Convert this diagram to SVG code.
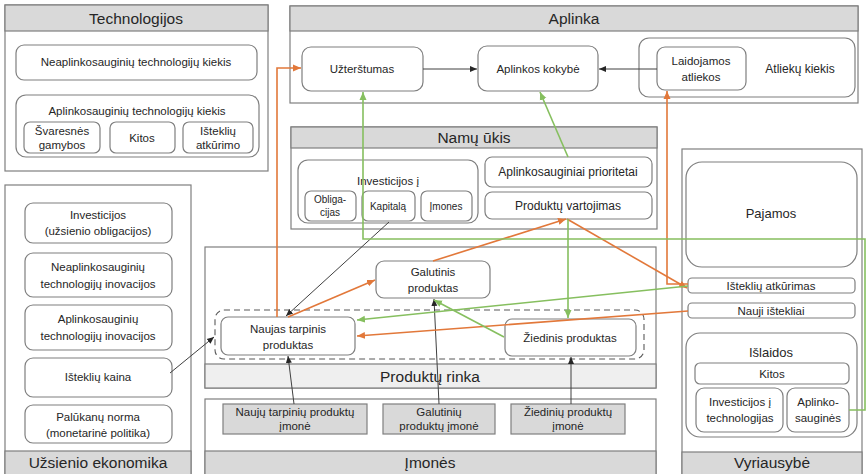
<svg xmlns="http://www.w3.org/2000/svg" width="866" height="474" viewBox="0 0 866 474">
<style>
text{font-family:"Liberation Sans",Arial,sans-serif;fill:#262626;text-anchor:middle;font-size:11.5px}
.h{font-size:15.5px}
.s{font-size:10px}
.m{font-size:12px}
.frame{fill:#fff;stroke:#7f7f7f;stroke-width:1.2}
.band{fill:#d9d9d9;stroke:#7f7f7f;stroke-width:1.2}
.band2{fill:#efefef;stroke:#7f7f7f;stroke-width:1.2}
.box{fill:#fff;stroke:#7f7f7f;stroke-width:1.2}
.gbox{fill:#d9d9d9;stroke:#7f7f7f;stroke-width:1.2}
.dash{fill:none;stroke:#595959;stroke-width:1.1;stroke-dasharray:6 4}
.k{fill:none;stroke:#404040;stroke-width:1}
.o{fill:none;stroke:#e2783a;stroke-width:1.6}
.g{fill:none;stroke:#86bf5f;stroke-width:1.6}
</style>
<defs>
<marker id="ak" markerUnits="userSpaceOnUse" markerWidth="8" markerHeight="8" refX="7" refY="4" orient="auto"><path d="M0,1 L7,4 L0,7 Z" fill="#262626"/></marker>
<marker id="ao" markerUnits="userSpaceOnUse" markerWidth="9" markerHeight="8" refX="8" refY="4" orient="auto"><path d="M0,0.5 L8,4 L0,7.5 Z" fill="#e2783a"/></marker>
<marker id="ag" markerUnits="userSpaceOnUse" markerWidth="9" markerHeight="8" refX="8" refY="4" orient="auto"><path d="M0,0.5 L8,4 L0,7.5 Z" fill="#86bf5f"/></marker>
</defs>

<g id="technologijos">
<rect class="frame" x="5" y="5" width="263" height="166"/>
<rect class="band" x="5" y="5" width="263" height="26"/>
<text class="h" x="136" y="24">Technologijos</text>
<rect class="box" x="16" y="45" width="241" height="35" rx="8"/>
<text x="136" y="66">Neaplinkosauginių technologijų kiekis</text>
<rect class="box" x="16" y="95" width="243" height="62" rx="10"/>
<text x="137" y="115">Aplinkosauginių technologijų kiekis</text>
<rect class="box" x="24" y="122" width="76" height="31" rx="6"/>
<text x="62" y="135">Švaresnės</text><text x="62" y="149">gamybos</text>
<rect class="box" x="110" y="122" width="65" height="31" rx="6"/>
<text x="142" y="142">Kitos</text>
<rect class="box" x="183" y="122" width="70" height="31" rx="6"/>
<text x="218" y="135">Išteklių</text><text x="218" y="149">atkūrimo</text>
</g>

<g id="aplinka">
<rect class="frame" x="290" y="6" width="568" height="97"/>
<rect class="band" x="290" y="6" width="568" height="25"/>
<text class="h" x="574" y="24">Aplinka</text>
<rect class="box" x="302" y="47" width="121" height="44" rx="9"/>
<text x="362" y="73">Užterštumas</text>
<rect class="box" x="478" y="46" width="120" height="45" rx="9"/>
<text x="538" y="73">Aplinkos kokybė</text>
<rect class="box" x="639" y="38" width="216" height="59" rx="10"/>
<text class="m" x="800" y="73">Atliekų kiekis</text>
<rect class="box" x="657" y="47" width="89" height="43" rx="8"/>
<text x="701" y="65">Laidojamos</text><text x="701" y="81">atliekos</text>
</g>

<g id="namu-ukis">
<rect class="frame" x="291" y="127" width="366" height="102"/>
<rect class="band" x="291" y="127" width="366" height="21"/>
<text class="h" x="474" y="143">Namų ūkis</text>
<rect class="box" x="298" y="160" width="180" height="63" rx="10"/>
<text x="388" y="185">Investicijos į</text>
<rect class="box" x="305" y="191" width="51" height="30" rx="6"/>
<text class="s" x="330" y="203">Obliga-</text><text class="s" x="330" y="216">cijas</text>
<rect class="box" x="362" y="191" width="53" height="30" rx="6"/>
<text class="s" x="388" y="210">Kapitalą</text>
<rect class="box" x="421" y="191" width="51" height="30" rx="6"/>
<text class="s" x="446" y="210">Įmones</text>
<rect class="box" x="485" y="157" width="167" height="30" rx="7"/>
<text class="m" x="568" y="176">Aplinkosauginiai prioritetai</text>
<rect class="box" x="485" y="192" width="167" height="27" rx="7"/>
<text class="m" x="568" y="210">Produktų vartojimas</text>
</g>

<g id="produktu-rinka">
<rect class="frame" x="205" y="247" width="451" height="141"/>
<rect class="band2" x="205" y="364" width="451" height="24"/>
<text class="h" x="430" y="382">Produktų rinka</text>
<rect class="dash" x="215" y="310" width="429" height="49" rx="9"/>
<rect class="box" x="376" y="261" width="114" height="37" rx="8"/>
<text x="433" y="276">Galutinis</text><text x="433" y="292">produktas</text>
<rect class="box" x="221" y="317" width="134" height="38" rx="7"/>
<text x="288" y="333">Naujas tarpinis</text><text x="288" y="349">produktas</text>
<rect class="box" x="505" y="319" width="131" height="37" rx="7"/>
<text x="570" y="342">Žiedinis produktas</text>
</g>

<g id="imones">
<rect class="frame" x="205" y="399" width="451" height="76"/>
<rect class="band" x="205" y="451" width="451" height="24"/>
<text class="h" x="430" y="468">Įmonės</text>
<rect class="gbox" x="223" y="404" width="144" height="30"/>
<text x="295" y="416">Naujų tarpinių produktų</text><text x="295" y="430">įmonė</text>
<rect class="gbox" x="383" y="404" width="112" height="30"/>
<text x="439" y="416">Galutinių</text><text x="439" y="430">produktų įmonė</text>
<rect class="gbox" x="511" y="404" width="114" height="30"/>
<text x="568" y="416">Žiedinių produktų</text><text x="568" y="430">įmonė</text>
</g>

<g id="uzsienio-ekonomika">
<rect class="frame" x="5" y="185" width="186" height="290"/>
<rect class="band" x="5" y="451" width="186" height="24"/>
<text class="h" x="98" y="468">Užsienio ekonomika</text>
<rect class="box" x="25" y="203" width="147" height="40" rx="8"/>
<text x="98" y="219">Investicijos</text><text x="98" y="235">(užsienio obligacijos)</text>
<rect class="box" x="25" y="253" width="147" height="44" rx="8"/>
<text x="98" y="271">Neaplinkosauginių</text><text x="98" y="288">technologijų inovacijos</text>
<rect class="box" x="25" y="305" width="147" height="45" rx="8"/>
<text x="98" y="323">Aplinkosauginių</text><text x="98" y="340">technologijų inovacijos</text>
<rect class="box" x="25" y="358" width="147" height="39" rx="8"/>
<text x="98" y="381">Išteklių kaina</text>
<rect class="box" x="25" y="405" width="147" height="38" rx="8"/>
<text x="98" y="421">Palūkanų norma</text><text x="98" y="437">(monetarinė politika)</text>
</g>

<g id="vyriausybe">
<rect class="frame" x="682" y="149" width="180" height="326"/>
<rect class="band" x="682" y="452" width="180" height="23"/>
<text class="h" x="772" y="468">Vyriausybė</text>
<rect class="box" x="686" y="162" width="171" height="105" rx="16"/>
<text x="771" y="218" style="font-size:13px">Pajamos</text>
<rect class="box" x="688" y="278" width="167" height="15" rx="4"/>
<text x="771" y="290">Išteklių atkūrimas</text>
<rect class="box" x="688" y="303" width="167" height="15" rx="4"/>
<text x="771" y="315">Nauji ištekliai</text>
<rect class="box" x="686" y="333" width="171" height="104" rx="14"/>
<text x="771" y="357" style="font-size:13px">Išlaidos</text>
<rect class="box" x="695" y="363" width="154" height="21" rx="5"/>
<text x="772" y="378">Kitos</text>
<rect class="box" x="696" y="388" width="87" height="44" rx="8"/>
<text x="740" y="406">Investicijos į</text><text x="740" y="422">technologijas</text>
<rect class="box" x="787" y="388" width="62" height="44" rx="8"/>
<text x="818" y="406">Aplinko-</text><text x="818" y="422">sauginės</text>
</g>

<g id="connectors">
<line class="k" x1="423" y1="69" x2="477" y2="69" marker-end="url(#ak)"/>
<line class="k" x1="657" y1="69" x2="599" y2="69" marker-end="url(#ak)"/>
<line class="k" x1="389" y1="222" x2="286" y2="316" marker-end="url(#ak)"/>
<line class="k" x1="170" y1="373" x2="214" y2="337" marker-end="url(#ak)"/>
<line class="k" x1="294" y1="404" x2="288" y2="356" marker-end="url(#ak)"/>
<line class="k" x1="439" y1="404" x2="434" y2="299" marker-end="url(#ak)"/>
<line class="k" x1="571" y1="404" x2="571" y2="357" marker-end="url(#ak)"/>

<polyline class="o" points="277,317 277,68 301,68" marker-end="url(#ao)"/>
<line class="o" x1="288" y1="317" x2="375" y2="280" marker-end="url(#ao)"/>
<line class="o" x1="433" y1="261" x2="566" y2="219" marker-end="url(#ao)"/>
<line class="o" x1="567" y1="219" x2="687" y2="288" marker-end="url(#ao)"/>
<polyline class="o" points="688,284 667,284 667,91" marker-end="url(#ao)"/>
<line class="o" x1="688" y1="311" x2="357" y2="336" marker-end="url(#ao)"/>

<line class="g" x1="568" y1="157" x2="540" y2="92" marker-end="url(#ag)"/>
<polyline class="g" points="849,410 865,410 865,239 363,239 363,92" marker-end="url(#ag)"/>
<line class="g" x1="568" y1="219" x2="568" y2="318" marker-end="url(#ag)"/>
<line class="g" x1="688" y1="286" x2="357" y2="320" marker-end="url(#ag)"/>
<line class="g" x1="504" y1="337" x2="434" y2="300" marker-end="url(#ag)"/>
</g>
</svg>
